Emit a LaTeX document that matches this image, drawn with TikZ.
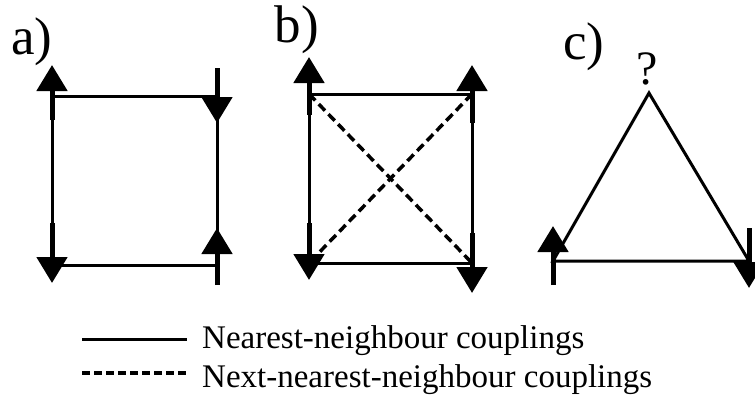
\documentclass[tikz,border=0pt]{standalone}
\usepackage{fontspec}
\setmainfont{Liberation Serif}
\usetikzlibrary{arrows.meta,positioning,calc}
\tikzset{
  coupling/.style={line width=3pt},
  nnn/.style={line width=3.5pt, dash pattern=on 9pt off 5pt},
  spin/.style={line width=5pt, -{Triangle[length=26pt, width=30pt]}},
  panel/.style={font=\fontsize{53}{57}\selectfont, inner sep=0pt},
  legendtext/.style={font=\fontsize{33}{37}\selectfont, anchor=base west, inner sep=0pt},
}

\begin{document}
\begin{tikzpicture}[x=1pt, y=-1pt]
  \useasboundingbox (0,0) rectangle (755,394);
  % panel labels
  \node[panel] (la) at (32,42) {a)};
  \node[panel] (lb) at (297,30) {b)};
  \node[panel] (lc) at (584,47) {c)};
  % sites
  \coordinate (a1) at (52,96);  \coordinate (a2) at (217,96);
  \coordinate (a3) at (52,265); \coordinate (a4) at (217,265);
  \coordinate (b1) at (309,94);  \coordinate (b2) at (472,94);
  \coordinate (b3) at (309,263); \coordinate (b4) at (472,263);
  \coordinate (c1) at (649,93);  \coordinate (c2) at (553,261);
  \coordinate (c3) at (749,261);
  % couplings
  \draw[coupling] (a1) -- (a2) -- (a4) -- (a3) -- cycle;
  \draw[coupling] (b1) -- (b2) -- (b4) -- (b3) -- cycle;
  \draw[nnn] (b1) -- (b4);
  \draw[nnn] (b2) -- (b3);
  \draw[coupling, line join=miter] (c2) -- (c1) -- (c3) -- cycle;
  \node[font=\fontsize{48}{52}\selectfont, inner sep=0pt] (q) at (647,69) {?};
  % spins
  \draw[spin] ($(a1)+(0,24)$) -- ($(a1)+(0,-31)$);
  \draw[spin] ($(a2)+(0,-28)$) -- ($(a2)+(0,27)$);
  \draw[spin] ($(a4)+(0,20)$) -- ($(a4)+(0,-37)$);
  \draw[spin] ($(a3)+(0,-42)$) -- ($(a3)+(0,18)$);
  \draw[spin] ($(b1)+(0,21)$) -- ($(b1)+(0,-37)$);
  \draw[spin] ($(b2)+(0,29)$) -- ($(b2)+(0,-29)$);
  \draw[spin] ($(b3)+(0,-40)$) -- ($(b3)+(0,17)$);
  \draw[spin] ($(b4)+(0,-30)$) -- ($(b4)+(0,30)$);
  \draw[spin] ($(c2)+(0,24)$) -- ($(c2)+(0,-35)$);
  \draw[spin] ($(c3)+(0,-33)$) -- ($(c3)+(0,27)$);
  % legend
  \coordinate (s1) at (82,339);  \coordinate (s2) at (187,339);
  \coordinate (d1) at (82,373);  \coordinate (d2) at (188,373);
  \draw[coupling] (s1) -- (s2);
  \draw[line width=3.5pt, dash pattern=on 8pt off 4pt] (d1) -- (d2);
  \node[legendtext] (nn) at (202,348) {Nearest-neighbour couplings};
  \node[legendtext] (nnnl) at (202,387) {Next-nearest-neighbour couplings};
\end{tikzpicture}
\end{document}
